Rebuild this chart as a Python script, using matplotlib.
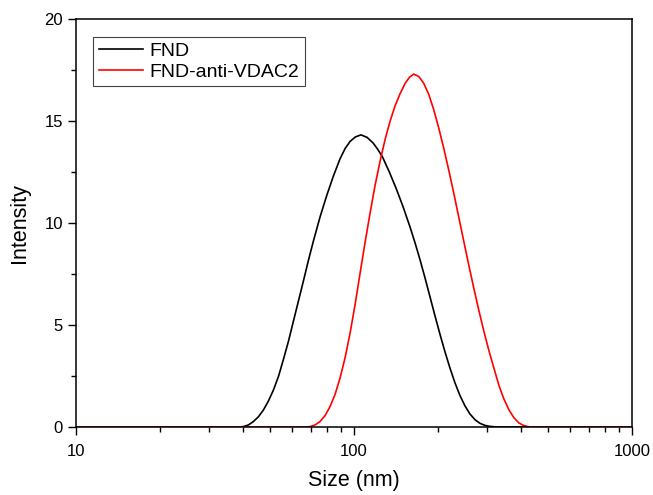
import numpy as np
import matplotlib
matplotlib.use("Agg")
import matplotlib.pyplot as plt
from matplotlib.ticker import FixedLocator, FixedFormatter, MultipleLocator, LogLocator, NullFormatter

plt.rcParams["font.family"] = ["Liberation Sans", "DejaVu Sans"]

# size distribution (nm, intensity %)
fnd_size = [10.0, 38.5, 40.0, 41.7, 43.4, 45.3, 47.2, 49.2, 51.3, 53.5, 55.7, 58.1,
            60.5, 63.1, 65.8, 68.5, 71.4, 75.5, 79.8, 84.3, 89.1, 92.9, 96.8,
            101.2, 105.9, 111.4, 117.2, 121.6, 126.5, 134.0, 142.2, 150.3, 158.9,
            165.6, 172.6, 179.9, 187.5, 195.4, 203.7, 212.3, 221.3, 230.7, 240.4,
            250.6, 261.2, 272.3, 283.8, 295.8, 308.3, 321.4, 335.0, 1000.0]
fnd_int = [0, 0, 0.02, 0.1, 0.26, 0.5, 0.83, 1.27, 1.81, 2.48, 3.3, 4.2,
           5.17, 6.17, 7.17, 8.15, 9.1, 10.3, 11.35, 12.3, 13.15, 13.65, 14.0,
           14.22, 14.32, 14.2, 13.92, 13.62, 13.25, 12.5, 11.65, 10.78, 9.82,
           9.05, 8.22, 7.33, 6.4, 5.47, 4.56, 3.7, 2.9, 2.17, 1.55,
           1.04, 0.64, 0.36, 0.18, 0.08, 0.03, 0.01, 0, 0]

vdac_size = [10.0, 66.7, 69.5, 72.4, 75.5, 78.7, 82.0, 85.5, 89.1, 92.9, 96.8,
             100.9, 105.2, 109.6, 114.3, 119.1, 124.2, 129.4, 134.9, 140.6, 146.6,
             152.8, 158.5, 164.1, 171.0, 178.2, 185.8, 193.6, 201.8, 210.4, 219.3,
             228.6, 238.2, 248.3, 258.8, 269.8, 281.2, 293.1, 305.5, 318.4, 331.9,
             345.9, 360.6, 375.8, 391.7, 408.3, 425.6, 443.6, 1000.0]
vdac_int = [0, 0, 0.02, 0.1, 0.27, 0.56, 1.0, 1.6, 2.4, 3.4, 4.6,
            6.0, 7.55, 9.05, 10.5, 11.85, 13.05, 14.1, 15.0, 15.75, 16.35,
            16.85, 17.15, 17.3, 17.18, 16.85, 16.3, 15.55, 14.65, 13.65, 12.58,
            11.45, 10.28, 9.1, 7.93, 6.8, 5.72, 4.7, 3.76, 2.9, 2.05,
            1.38, 0.85, 0.46, 0.2, 0.07, 0.01, 0, 0]

fig = plt.figure(figsize=(6.53, 4.95), dpi=100)
ax = fig.add_axes([76 / 653, 1 - 427 / 495, 556 / 653, 408 / 495])

ax.plot(fnd_size, fnd_int, color="black", lw=1.2, label="FND")
ax.plot(vdac_size, vdac_int, color="#ff0000", lw=1.2, label="FND-anti-VDAC2")

ax.set_xscale("log")
ax.set_xlim(10, 1000)
ax.set_ylim(0, 20)
ax.xaxis.set_major_locator(FixedLocator([10, 100, 1000]))
ax.xaxis.set_major_formatter(FixedFormatter(["10", "100", "1000"]))
ax.xaxis.set_minor_locator(LogLocator(base=10, subs=np.arange(2, 10)))
ax.xaxis.set_minor_formatter(NullFormatter())
ax.yaxis.set_major_locator(MultipleLocator(5))
ax.yaxis.set_minor_locator(MultipleLocator(2.5))

ax.tick_params(which="both", direction="out", top=False, right=False, labelsize=12, width=1)
ax.tick_params(which="major", length=6)
ax.tick_params(which="minor", length=3.5)
ax.tick_params(axis="x", pad=6)
for s in ax.spines.values():
    s.set_linewidth(1.1)

ax.set_xlabel("Size (nm)", fontsize=15.5, labelpad=8)
ax.set_ylabel("Intensity", fontsize=15.5, labelpad=10)

leg = ax.legend(loc="upper left", bbox_to_anchor=(0.030, 0.957), borderaxespad=0,
                fontsize=14, fancybox=False, framealpha=1, edgecolor="#444444",
                handlelength=2.3, handletextpad=0.3, borderpad=0.3, labelspacing=0.15)
leg.get_frame().set_linewidth(0.8)

fig.savefig("out.png", dpi=100)
